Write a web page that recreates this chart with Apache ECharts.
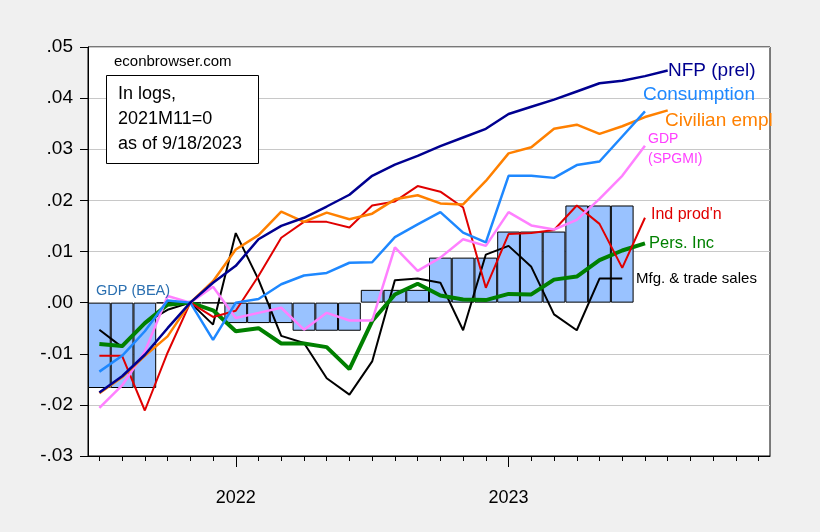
<!DOCTYPE html>
<html>
<head>
<meta charset="utf-8">
<script src="https://cdn.jsdelivr.net/npm/echarts@6/dist/echarts.min.js"></script>
<style>
html,body{margin:0;padding:0;background:#f0f0f0;}
#c{width:820px;height:532px;}
</style>
</head>
<body>
<div id="c"></div>
<script>
// Months 2021M07 .. 2023M12
var months = ['2021M07','2021M08','2021M09','2021M10','2021M11','2021M12',
  '2022M01','2022M02','2022M03','2022M04','2022M05','2022M06','2022M07','2022M08','2022M09','2022M10','2022M11','2022M12',
  '2023M01','2023M02','2023M03','2023M04','2023M05','2023M06','2023M07','2023M08','2023M09','2023M10','2023M11','2023M12'];
var yearTickLabels = {'2022M01':'2022','2023M01':'2023'};

// GDP (BEA), quarterly, 2021Q3 .. 2023Q2
var gdpBEAq = [-0.0167, -0.0001, -0.0040, -0.0055, 0.0025, 0.0088, 0.0139, 0.0190];

var nfp = [-0.0176,-0.0144,-0.0102,-0.0050,0.0,0.0039,
  0.0072,0.0124,0.0150,0.0166,0.0188,0.0211,0.0248,0.0270,0.0287,0.0306,0.0323,0.0340,
  0.0369,0.0383,0.0397,0.0413,0.0429,0.0434,0.0443,0.0454,null,null,null,null];
var consumption = [-0.0135,-0.0104,-0.0056,0.0004,0.0,-0.0073,
  0.0,0.0007,0.0036,0.0053,0.0058,0.0078,0.0079,0.0128,0.0153,0.0177,0.0137,0.0118,
  0.0248,0.0248,0.0244,0.0269,0.0276,0.0325,0.0374,null,null,null,null,null];
var civilian = [-0.0177,-0.0146,-0.0104,-0.0066,0.0,0.0042,
  0.0104,0.0132,0.0178,0.0158,0.0176,0.0163,0.0174,0.0202,0.0210,0.0194,0.0192,0.0238,
  0.0292,0.0304,0.0340,0.0348,0.0330,0.0345,0.0363,0.0376,null,null,null,null];
var gdpSPGMI = [-0.0206,-0.0162,-0.0096,0.0013,0.0,0.0031,
  -0.0030,-0.0020,-0.0010,-0.0053,-0.0020,-0.0035,-0.0035,0.0108,0.0062,0.0088,0.0124,0.0111,
  0.0177,0.0151,0.0143,0.0162,0.0203,0.0248,0.0307,null,null,null,null,null];
var indProd = [-0.0104,-0.0104,-0.0211,-0.0098,0.0,-0.0028,
  -0.0016,0.0052,0.0127,0.0158,0.0158,0.0147,0.0190,0.0198,0.0228,0.0217,0.0186,0.0029,
  0.0134,0.0136,0.0142,0.0190,0.0154,0.0068,0.0166,null,null,null,null,null];
var persInc = [-0.0081,-0.0085,-0.0040,-0.0004,0.0,-0.0015,
  -0.0056,-0.0050,-0.0080,-0.0080,-0.0087,-0.0130,-0.0036,0.0016,0.0037,0.0014,0.0006,0.0005,
  0.0017,0.0016,0.0045,0.0051,0.0083,0.0102,0.0116,null,null,null,null,null];
var mfgSales = [-0.0053,-0.0087,-0.0040,-0.0014,0.0,-0.0043,
  0.0136,0.0045,-0.0065,-0.0079,-0.0148,-0.0180,-0.0115,0.0044,0.0047,0.0039,-0.0054,0.0094,
  0.0111,0.0070,-0.0023,-0.0054,0.0047,0.0047,null,null,null,null,null,null];

// expand quarterly GDP to monthly bars
var gdpBEA = months.map(function(m, i){
  var q = Math.floor(i / 3);
  return q < gdpBEAq.length ? gdpBEAq[q] : null;
});

var FONT = 'Liberation Sans, Arial, sans-serif';
var chart = echarts.init(document.getElementById('c'), null, {renderer:'canvas'});

function lineSeries(name, data, color, width, z){
  return {name:name, type:'line', data:data, symbol:'none', z:z||3,
    lineStyle:{color:color, width:width}, itemStyle:{color:color}, connectNulls:false, animation:false};
}
function label(text, x, y, color, size){
  return {type:'text', x:x, y:y, z:100,
    style:{text:text, fill:color, font: size + 'px ' + FONT, verticalAlign:'middle', align:'left'}};
}
function yFmt(v){ var n = Math.round(v*100); var s = (Math.abs(n)/100).toFixed(2).replace(/^0/, ''); return (n<0?'-':'') + s; }

var option = {
  backgroundColor:'#f0f0f0',
  animation:false,
  grid:{left:88, top:47, width:682, height:409, show:true, backgroundColor:'#ffffff', borderColor:'#000', borderWidth:1, containLabel:false},
  xAxis:[{
    type:'category', data:months, boundaryGap:true, position:'bottom',
    axisLine:{show:true, onZero:false, lineStyle:{color:'#000', width:1}},
    axisTick:{show:true, alignWithLabel:true, interval:0, length:5, lineStyle:{color:'#000', width:1}},
    axisLabel:{show:true, interval:function(i, v){ return !!yearTickLabels[v]; },
      formatter:function(v){ return yearTickLabels[v] || ''; },
      color:'#000', fontSize:18, fontFamily:FONT, margin:33},
    splitLine:{show:false}
  },{
    type:'category', data:months, boundaryGap:true, position:'bottom',
    axisLine:{show:false, onZero:false},
    axisTick:{show:true, alignWithLabel:true, interval:function(i, v){ return !!yearTickLabels[v]; }, length:11, lineStyle:{color:'#000', width:1}},
    axisLabel:{show:false}, splitLine:{show:false}
  }],
  yAxis:{
    type:'value', min:-0.03, max:0.05, interval:0.01, position:'left',
    axisLine:{show:true, onZero:false, lineStyle:{color:'#000'}},
    axisTick:{show:true, inside:false, length:8, lineStyle:{color:'#000', width:1}},
    axisLabel:{color:'#000', fontSize:19, fontFamily:FONT, margin:15, formatter:yFmt},
    splitLine:{show:true, lineStyle:{color:['#c8c8c8','#c8c8c8','#c8c8c8','rgba(0,0,0,0)','#c8c8c8','#c8c8c8','#c8c8c8','#c8c8c8','#c8c8c8'], width:1}}
  },
  series:[
    {name:'GDP (BEA)', type:'bar', data:gdpBEA, barWidth:'100%', barCategoryGap:'0%', z:1,
      itemStyle:{color:'#99c2ff', borderColor:'#000', borderWidth:1}},
    lineSeries('Mfg. & trade sales', mfgSales, '#000000', 2, 3),
    lineSeries('Pers. Inc', persInc, '#008000', 4, 4),
    lineSeries("Ind prod'n", indProd, '#e00000', 2, 5),
    lineSeries('GDP (SPGMI)', gdpSPGMI, '#ff80ff', 2.5, 6),
    lineSeries('Civilian empl', civilian, '#ff8000', 2.5, 7),
    lineSeries('Consumption', consumption, '#1e88ff', 2.5, 8),
    lineSeries('NFP (prel)', nfp, '#000090', 2.5, 9)
  ],
  graphic:[
    label('econbrowser.com', 114, 62, '#000', 15),
    {type:'rect', z:99, shape:{x:106.5, y:75.5, width:152, height:88}, style:{fill:'#fff', stroke:'#000', lineWidth:1}},
    label('In logs,', 118, 94, '#000', 18),
    label('2021M11=0', 118, 119, '#000', 18),
    label('as of 9/18/2023', 118, 144, '#000', 18),
    label('NFP (prel)', 668, 71, '#000090', 19),
    label('Consumption', 643, 95, '#1e88ff', 19),
    label('Civilian empl', 665, 121, '#ff8000', 19),
    label('GDP', 648, 139, '#ff40ff', 14),
    label('(SPGMI)', 648, 159, '#ff40ff', 14),
    label("Ind prod'n", 651, 215, '#e00000', 16),
    label('Pers. Inc', 649, 243, '#008000', 16.5),
    label('Mfg. & trade sales', 636, 279, '#000', 15),
    label('GDP (BEA)', 96, 291, '#2a6fb0', 14.5)
  ]
};
chart.setOption(option);
</script>
</body>
</html>
